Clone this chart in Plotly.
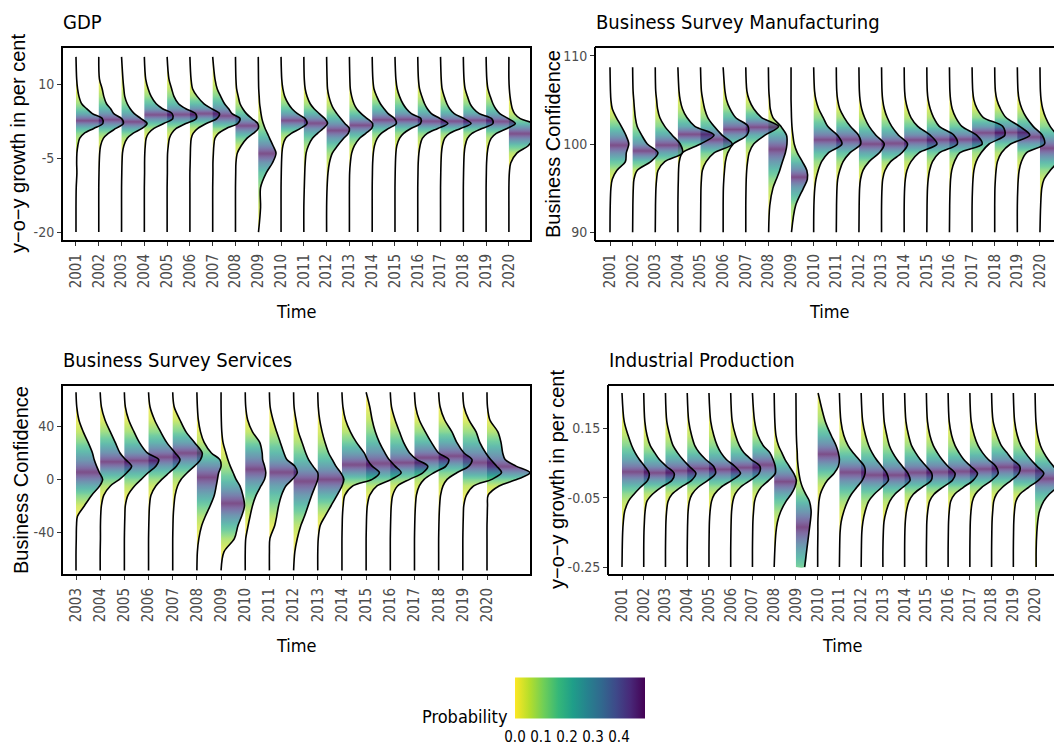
import numpy as np
import plotly.graph_objects as go
from plotly.colors import sample_colorscale

# ---------------------------------------------------------------- data
years_all = list(range(2001, 2021))
years_services = list(range(2003, 2021))

# density heights (in units of the spacing between years) at fixed value levels
gdp_levels = [-20, -15, -11, -8, -6, -4, -2.5, -1, 0, 1, 2, 3, 4, 5, 6, 7.5, 9, 11, 15.5]
gdp_heights = [
    [0, 0, 0.01, 0.04, 0.03, 0.04, 0.08, 0.16, 0.36, 0.78, 1.18, 1.15, 0.72, 0.47, 0.25, 0.13, 0.07, 0.03, 0],
    [0, 0, 0, 0.01, 0.02, 0.04, 0.08, 0.20, 0.42, 0.75, 1.08, 1.00, 0.66, 0.52, 0.34, 0.22, 0.15, 0.03, 0],
    [0, 0, 0, 0.01, 0.02, 0.04, 0.10, 0.25, 0.50, 0.90, 1.12, 0.85, 0.56, 0.38, 0.25, 0.14, 0.10, 0.06, 0],
    [0, 0, 0, 0.01, 0.01, 0.02, 0.04, 0.08, 0.18, 0.42, 0.85, 1.25, 1.22, 0.80, 0.52, 0.30, 0.17, 0.06, 0],
    [0, 0, 0, 0.01, 0.01, 0.02, 0.05, 0.10, 0.20, 0.40, 0.82, 1.28, 1.25, 0.82, 0.50, 0.30, 0.20, 0.08, 0],
    [0, 0, 0, 0, 0.01, 0.02, 0.03, 0.06, 0.14, 0.35, 0.72, 1.18, 1.30, 0.95, 0.62, 0.32, 0.12, 0.05, 0],
    [0, 0, 0, 0.01, 0.01, 0.03, 0.05, 0.10, 0.25, 0.60, 1.10, 1.20, 0.85, 0.70, 0.52, 0.35, 0.20, 0.10, 0],
    [0, 0, 0, 0.01, 0.02, 0.08, 0.25, 0.50, 0.78, 1.00, 0.98, 0.72, 0.48, 0.32, 0.20, 0.12, 0.05, 0.02, 0],
    [0.01, 0.10, 0.10, 0.35, 0.62, 0.78, 0.65, 0.50, 0.40, 0.30, 0.22, 0.16, 0.12, 0.09, 0.06, 0.04, 0.02, 0.01, 0],
    [0, 0, 0, 0.01, 0.02, 0.04, 0.08, 0.20, 0.45, 0.85, 1.14, 1.05, 0.72, 0.48, 0.32, 0.16, 0.08, 0.03, 0],
    [0, 0, 0.02, 0.04, 0.06, 0.10, 0.20, 0.38, 0.60, 0.85, 1.04, 0.92, 0.68, 0.45, 0.28, 0.14, 0.06, 0.02, 0],
    [0, 0, 0.02, 0.06, 0.12, 0.25, 0.48, 0.75, 0.95, 1.00, 0.80, 0.62, 0.45, 0.30, 0.20, 0.10, 0.04, 0.02, 0],
    [0, 0, 0, 0.01, 0.04, 0.10, 0.22, 0.45, 0.72, 0.98, 1.02, 0.78, 0.52, 0.32, 0.20, 0.10, 0.04, 0.02, 0],
    [0, 0, 0, 0.01, 0.02, 0.05, 0.10, 0.22, 0.40, 0.72, 1.06, 0.98, 0.70, 0.52, 0.36, 0.20, 0.08, 0.03, 0],
    [0, 0, 0, 0.01, 0.02, 0.04, 0.08, 0.20, 0.38, 0.70, 1.12, 1.14, 0.72, 0.50, 0.35, 0.20, 0.10, 0.04, 0],
    [0, 0, 0, 0.01, 0.02, 0.05, 0.10, 0.20, 0.42, 0.88, 1.32, 0.98, 0.60, 0.42, 0.30, 0.18, 0.08, 0.03, 0],
    [0, 0, 0, 0.01, 0.02, 0.04, 0.08, 0.18, 0.40, 0.88, 1.34, 1.04, 0.60, 0.40, 0.28, 0.16, 0.07, 0.03, 0],
    [0, 0, 0, 0.01, 0.02, 0.04, 0.08, 0.18, 0.38, 0.82, 1.30, 1.24, 0.70, 0.45, 0.30, 0.18, 0.08, 0.03, 0],
    [0, 0, 0, 0.01, 0.02, 0.05, 0.10, 0.22, 0.45, 0.92, 1.28, 0.98, 0.60, 0.42, 0.30, 0.18, 0.08, 0.03, 0],
    [0, 0, 0, 0.02, 0.08, 0.35, 0.85, 1.05, 1.05, 1.12, 1.05, 0.50, 0.25, 0.15, 0.10, 0.05, 0.02, 0, 0],
]
gdp_mass_below = [0, 0, 0, 0, 0, 0, 0, 0, 0.01, 0, 0, 0, 0, 0, 0, 0, 0, 0, 0, 0]

bsm_levels = [90, 93, 95, 96, 97, 98, 99, 100, 101, 102, 103, 104, 105, 106, 108.7]
bsm_heights = [
    [0, 0.01, 0.04, 0.10, 0.30, 0.68, 0.72, 0.83, 0.70, 0.50, 0.28, 0.10, 0.04, 0.02, 0],
    [0, 0.01, 0.03, 0.06, 0.20, 0.80, 1.12, 0.65, 0.40, 0.20, 0.12, 0.08, 0.05, 0.02, 0],
    [0, 0.01, 0.03, 0.06, 0.12, 0.42, 1.20, 1.10, 0.75, 0.42, 0.20, 0.10, 0.06, 0.02, 0],
    [0, 0, 0.01, 0.02, 0.03, 0.06, 0.20, 1.00, 1.60, 0.75, 0.40, 0.20, 0.10, 0.05, 0],
    [0, 0.01, 0.02, 0.04, 0.08, 0.25, 0.60, 1.40, 0.95, 0.60, 0.32, 0.18, 0.10, 0.04, 0],
    [0, 0, 0.01, 0.03, 0.06, 0.10, 0.20, 0.45, 1.05, 1.10, 0.55, 0.30, 0.15, 0.08, 0],
    [0, 0, 0.01, 0.02, 0.04, 0.08, 0.15, 0.35, 0.85, 1.45, 0.70, 0.35, 0.15, 0.05, 0],
    [0.01, 0.06, 0.20, 0.35, 0.50, 0.62, 0.75, 0.82, 0.80, 0.55, 0.20, 0.08, 0.05, 0.02, 0],
    [0.02, 0.20, 0.55, 0.72, 0.70, 0.50, 0.28, 0.14, 0.08, 0.04, 0.02, 0.01, 0, 0, 0],
    [0, 0.01, 0.05, 0.10, 0.20, 0.35, 0.65, 1.25, 1.05, 0.62, 0.42, 0.22, 0.10, 0.04, 0],
    [0, 0.01, 0.03, 0.06, 0.15, 0.30, 0.60, 1.08, 0.98, 0.62, 0.35, 0.15, 0.06, 0.02, 0],
    [0, 0.01, 0.03, 0.07, 0.18, 0.45, 0.90, 1.12, 0.75, 0.45, 0.25, 0.12, 0.05, 0.02, 0],
    [0, 0, 0.02, 0.05, 0.15, 0.40, 0.90, 1.15, 0.75, 0.45, 0.25, 0.12, 0.05, 0.02, 0],
    [0, 0, 0.02, 0.05, 0.12, 0.30, 0.65, 1.45, 1.15, 0.60, 0.30, 0.15, 0.06, 0.02, 0],
    [0, 0.01, 0.03, 0.06, 0.12, 0.25, 0.55, 1.35, 1.20, 0.55, 0.30, 0.15, 0.06, 0.02, 0],
    [0, 0.01, 0.03, 0.05, 0.10, 0.22, 0.45, 1.45, 1.20, 0.55, 0.28, 0.12, 0.05, 0.02, 0],
    [0, 0, 0.02, 0.04, 0.08, 0.18, 0.40, 0.75, 1.45, 1.35, 0.50, 0.22, 0.08, 0.03, 0],
    [0, 0, 0.01, 0.03, 0.06, 0.12, 0.30, 0.70, 1.55, 1.10, 0.50, 0.25, 0.10, 0.03, 0],
    [0, 0, 0.02, 0.04, 0.08, 0.18, 0.40, 1.20, 1.10, 0.70, 0.40, 0.20, 0.08, 0.03, 0],
    [0, 0.03, 0.08, 0.18, 0.45, 0.80, 1.00, 1.00, 0.75, 0.45, 0.25, 0.12, 0.05, 0.02, 0],
]
bsm_mass_below = [0, 0, 0, 0, 0, 0, 0, 0, 0.02, 0, 0, 0, 0, 0, 0, 0, 0, 0, 0, 0]

bss_levels = [-69, -55, -45, -35, -28, -20, -12, -5, 0, 5, 10, 15, 20, 28, 36, 45, 55, 66]
bss_heights = [
    [0, 0, 0.01, 0.02, 0.06, 0.35, 0.65, 0.98, 1.10, 0.97, 0.85, 0.75, 0.68, 0.50, 0.30, 0.12, 0.03, 0],
    [0, 0, 0.01, 0.01, 0.02, 0.05, 0.15, 0.42, 0.80, 1.10, 1.30, 1.05, 0.82, 0.62, 0.42, 0.20, 0.05, 0],
    [0, 0, 0, 0.01, 0.02, 0.04, 0.15, 0.42, 0.70, 0.98, 1.30, 1.42, 0.95, 0.62, 0.40, 0.18, 0.04, 0],
    [0, 0, 0, 0.01, 0.02, 0.04, 0.10, 0.30, 0.55, 0.85, 1.15, 1.30, 1.10, 0.75, 0.50, 0.25, 0.06, 0],
    [0, 0, 0, 0.01, 0.02, 0.05, 0.10, 0.20, 0.35, 0.60, 0.90, 1.15, 1.22, 0.90, 0.55, 0.30, 0.06, 0],
    [0, 0.02, 0.08, 0.20, 0.35, 0.55, 0.72, 0.80, 0.85, 0.90, 1.00, 0.95, 0.60, 0.30, 0.15, 0.06, 0.02, 0],
    [0, 0.12, 0.55, 0.70, 0.85, 0.97, 0.90, 0.78, 0.62, 0.50, 0.38, 0.28, 0.20, 0.08, 0.03, 0.01, 0, 0],
    [0, 0, 0.02, 0.12, 0.20, 0.30, 0.45, 0.65, 0.80, 0.85, 0.80, 0.72, 0.70, 0.60, 0.30, 0.10, 0.02, 0],
    [0, 0, 0.02, 0.22, 0.30, 0.38, 0.50, 0.68, 0.95, 1.15, 1.05, 0.72, 0.60, 0.45, 0.30, 0.15, 0.03, 0],
    [0, 0.05, 0.15, 0.30, 0.45, 0.60, 0.75, 0.90, 1.00, 1.00, 0.80, 0.62, 0.50, 0.35, 0.20, 0.10, 0.02, 0],
    [0, 0, 0.02, 0.10, 0.30, 0.55, 0.80, 1.00, 1.08, 0.95, 0.75, 0.60, 0.45, 0.30, 0.18, 0.08, 0.02, 0],
    [0, 0, 0, 0.01, 0.02, 0.05, 0.12, 0.45, 1.25, 1.55, 1.25, 1.05, 0.92, 0.60, 0.35, 0.15, 0.04, 0],
    [0, 0, 0, 0.01, 0.02, 0.05, 0.15, 0.45, 1.05, 1.45, 1.20, 0.95, 0.78, 0.55, 0.38, 0.25, 0.15, 0],
    [0, 0, 0, 0.01, 0.02, 0.04, 0.10, 0.30, 0.80, 1.35, 1.55, 1.10, 0.80, 0.55, 0.38, 0.20, 0.05, 0],
    [0, 0, 0, 0.01, 0.02, 0.04, 0.08, 0.20, 0.40, 0.80, 1.30, 1.42, 1.00, 0.70, 0.45, 0.20, 0.05, 0],
    [0, 0, 0, 0.01, 0.02, 0.04, 0.08, 0.18, 0.35, 0.75, 1.25, 1.38, 1.05, 0.75, 0.55, 0.25, 0.06, 0],
    [0, 0, 0, 0.01, 0.02, 0.04, 0.15, 0.45, 1.20, 1.60, 1.40, 1.15, 0.95, 0.70, 0.55, 0.25, 0.05, 0],
    [0, 0, 0, 0, 0.01, 0.02, 0.05, 0.50, 1.25, 1.78, 1.20, 0.75, 0.65, 0.58, 0.45, 0.12, 0.02, 0],
]
bss_mass_below = [0, 0, 0, 0, 0, 0, 0, 0, 0, 0, 0, 0, 0, 0, 0, 0, 0, 0]

ip_levels = [-0.25, -0.2, -0.15, -0.12, -0.09, -0.06, -0.04, -0.02, 0, 0.02, 0.04, 0.06, 0.08, 0.1, 0.13, 0.17, 0.252]
ip_heights = [
    [0, 0.01, 0.03, 0.06, 0.12, 0.30, 0.55, 0.85, 1.18, 1.25, 1.05, 0.80, 0.60, 0.45, 0.28, 0.10, 0],
    [0, 0, 0.01, 0.03, 0.06, 0.15, 0.40, 0.80, 1.30, 1.40, 1.05, 0.72, 0.50, 0.30, 0.15, 0.05, 0],
    [0, 0, 0.01, 0.02, 0.05, 0.12, 0.30, 0.70, 1.20, 1.40, 1.10, 0.80, 0.55, 0.35, 0.20, 0.06, 0],
    [0, 0, 0.01, 0.02, 0.04, 0.10, 0.22, 0.50, 0.95, 1.30, 1.22, 0.85, 0.55, 0.35, 0.20, 0.07, 0],
    [0, 0, 0.01, 0.02, 0.05, 0.12, 0.25, 0.55, 1.05, 1.45, 1.20, 0.80, 0.55, 0.38, 0.22, 0.08, 0],
    [0, 0, 0.01, 0.02, 0.04, 0.10, 0.20, 0.45, 0.90, 1.30, 1.35, 0.95, 0.60, 0.40, 0.22, 0.07, 0],
    [0, 0, 0.01, 0.02, 0.05, 0.10, 0.20, 0.40, 0.75, 1.05, 1.05, 0.95, 0.80, 0.50, 0.25, 0.10, 0],
    [0, 0.03, 0.08, 0.15, 0.30, 0.55, 0.78, 0.95, 1.02, 0.90, 0.70, 0.50, 0.35, 0.20, 0.08, 0.03, 0],
    [0.40, 0.50, 0.60, 0.66, 0.70, 0.62, 0.45, 0.30, 0.20, 0.14, 0.10, 0.07, 0.06, 0.04, 0.02, 0.01, 0],
    [0, 0, 0.01, 0.01, 0.03, 0.06, 0.12, 0.25, 0.45, 0.75, 0.95, 1.00, 0.95, 0.85, 0.62, 0.35, 0.02],
    [0, 0.01, 0.03, 0.08, 0.20, 0.38, 0.55, 0.80, 1.05, 1.18, 1.15, 0.90, 0.62, 0.40, 0.20, 0.07, 0],
    [0, 0.01, 0.03, 0.08, 0.18, 0.35, 0.60, 0.95, 1.25, 1.18, 0.95, 0.70, 0.50, 0.35, 0.20, 0.07, 0],
    [0, 0, 0.02, 0.05, 0.15, 0.32, 0.55, 0.92, 1.25, 1.15, 0.90, 0.65, 0.45, 0.30, 0.18, 0.06, 0],
    [0, 0, 0.01, 0.03, 0.08, 0.20, 0.40, 0.80, 1.22, 1.25, 1.00, 0.72, 0.50, 0.32, 0.18, 0.06, 0],
    [0, 0, 0.01, 0.02, 0.06, 0.15, 0.35, 0.75, 1.20, 1.32, 1.00, 0.72, 0.50, 0.32, 0.16, 0.05, 0],
    [0, 0, 0.01, 0.02, 0.05, 0.12, 0.30, 0.70, 1.15, 1.35, 1.05, 0.72, 0.50, 0.32, 0.16, 0.05, 0],
    [0, 0, 0.01, 0.02, 0.05, 0.12, 0.25, 0.55, 1.00, 1.30, 1.20, 0.85, 0.58, 0.38, 0.20, 0.06, 0],
    [0, 0, 0.01, 0.02, 0.05, 0.10, 0.22, 0.50, 0.90, 1.25, 1.30, 0.95, 0.70, 0.45, 0.25, 0.07, 0],
    [0, 0, 0.01, 0.02, 0.05, 0.12, 0.30, 0.70, 1.15, 1.40, 1.10, 0.80, 0.55, 0.35, 0.18, 0.06, 0],
    [0.05, 0.05, 0.08, 0.12, 0.20, 0.40, 0.65, 1.00, 1.20, 1.10, 0.85, 0.60, 0.40, 0.25, 0.12, 0.04, 0],
]
ip_mass_below = [0, 0, 0, 0, 0, 0, 0, 0, 0.15, 0, 0, 0, 0, 0, 0, 0, 0, 0, 0, 0.01]

# ---------------------------------------------------------------- styling
W, H = 1054, 748
NARROW = "DejaVu Sans Condensed, Liberation Sans Narrow, Arial Narrow, sans-serif"
AXIS_TITLE = "Liberation Sans, Arial, sans-serif"
TICK_GREY = "#4d4d4d"
FILL_ALPHA = 0.7
PROB_MAX = 0.5


def px(x):
    return x / W


def py(y):
    return 1 - y / H


def to_rgba(col, alpha):
    r, g, b = [int(float(v)) for v in col[col.index("(") + 1:col.index(")")].split(",")]
    return f"rgba({r},{g},{b},{alpha})"


def ridges(levels, heights, mass_below, xa, ya):
    """Filled density ridges, one per year, coloured by tail probability."""
    lv = np.asarray(levels, float)
    out = []
    for i in reversed(range(len(heights))):
        h = np.asarray(heights[i], float)
        base = i + 1
        seg = 0.5 * (h[1:] + h[:-1]) * np.diff(lv)
        cum = np.concatenate([[0.0], np.cumsum(seg)]) / seg.sum()
        cdf = mass_below[i] + (1 - mass_below[i]) * cum
        pos = np.linspace(lv[0], lv[-1], 160)
        tail = 0.5 - np.abs(0.5 - np.interp(pos, lv, cdf))
        cols = sample_colorscale("Viridis", list(np.clip(1 - tail / PROB_MAX, 0, 1)))
        frac = (pos - lv[0]) / (lv[-1] - lv[0])
        cscale = [[float(f), to_rgba(c, FILL_ALPHA)] for f, c in zip(frac, cols)]

        fx = list(base + h)
        fy = list(lv)
        if h[0] > 0:
            fx = [base] + fx
            fy = [lv[0]] + fy
        if h[-1] > 0:
            fx = fx + [base]
            fy = fy + [lv[-1]]
        out.append(go.Scatter(
            x=fx, y=fy, xaxis=xa, yaxis=ya, mode="lines",
            line=dict(width=0, shape="spline", smoothing=0.9),
            fill="toself",
            fillgradient=dict(type="vertical", colorscale=cscale,
                              start=float(lv[0]), stop=float(lv[-1])),
            hoverinfo="skip", showlegend=False,
        ))
        out.append(go.Scatter(
            x=list(base + h), y=list(lv), xaxis=xa, yaxis=ya, mode="lines",
            line=dict(color="black", width=1.6, shape="spline", smoothing=0.9),
            hoverinfo="skip", showlegend=False,
        ))
    return out


# panel geometry in pixels (left, right, top, bottom) and axis settings;
# the x range is the visible range inside the page
panels = [
    dict(name="GDP", years=years_all, levels=gdp_levels, heights=gdp_heights,
         below=gdp_mass_below, box=(62, 531, 47, 241), xr=[0.386, 20.97], yr=[-21.8, 17.5],
         yt=[-20, -5, 10], ytt=["-20", "-5", "10"],
         ytitle="y\u2212o\u2212y growth in per cent", ytx=18, closed=True),
    dict(name="Business Survey Manufacturing", years=years_all, levels=bsm_levels,
         heights=bsm_heights, below=bsm_mass_below, box=(595, 1054, 47, 241),
         xr=[0.337, 20.62], yr=[89.0, 111.0],
         yt=[90, 100, 110], ytt=["90", "100", "110"],
         ytitle="Business Confidence", ytx=553, closed=False),
    dict(name="Business Survey Services", years=years_services, levels=bss_levels,
         heights=bss_heights, below=bss_mass_below, box=(62, 531, 385, 575),
         xr=[0.42, 19.82], yr=[-72.5, 71.5],
         yt=[-40, 0, 40], ytt=["-40", "0", "40"],
         ytitle="Business Confidence", ytx=21, closed=True),
    dict(name="Industrial Production", years=years_all, levels=ip_levels,
         heights=ip_heights, below=ip_mass_below, box=(608, 1054, 385, 575),
         xr=[0.356, 20.87], yr=[-0.273, 0.275],
         yt=[-0.25, -0.05, 0.15], ytt=["-0.25", "-0.05", "0.15"],
         ytitle="y\u2212o\u2212y growth in per cent", ytx=557, closed=False),
]

fig = go.Figure()
layout = dict(
    width=W, height=H, margin=dict(l=0, r=0, t=0, b=0, autoexpand=False),
    paper_bgcolor="white", plot_bgcolor="white", showlegend=False,
)
shapes = []
annotations = []

for k, p in enumerate(panels, start=1):
    l, r, t, b = p["box"]
    xa, ya = f"x{k}", f"y{k}"
    xkey, ykey = ("xaxis" if k == 1 else f"xaxis{k}"), ("yaxis" if k == 1 else f"yaxis{k}")
    layout[xkey] = dict(
        domain=[px(l), px(r)], range=p["xr"], anchor=ya,
        tickmode="array", tickvals=list(range(1, len(p["years"]) + 1)),
        ticktext=[str(v) for v in p["years"]], tickangle=-90,
        ticks="outside", ticklen=4, tickwidth=1.2, tickcolor="#333333",
        ticklabelstandoff=2,
        tickfont=dict(family=NARROW, size=15, color=TICK_GREY),
        showgrid=False, zeroline=False, showline=False,
    )
    layout[ykey] = dict(
        domain=[py(b), py(t)], range=p["yr"], anchor=xa,
        tickmode="array", tickvals=p["yt"], ticktext=p["ytt"],
        ticks="outside", ticklen=4, tickwidth=1.2, tickcolor="#333333",
        tickfont=dict(family=NARROW, size=14, color=TICK_GREY),
        showgrid=False, zeroline=False, showline=False,
    )
    for tr in ridges(p["levels"], p["heights"], p["below"], xa, ya):
        fig.add_trace(tr)

    # panel border (the right-hand panels run past the page edge)
    lw = 2
    if p["closed"]:
        shapes.append(dict(type="rect", xref="paper", yref="paper",
                           x0=px(l), x1=px(r), y0=py(b), y1=py(t),
                           line=dict(color="black", width=lw)))
    else:
        for x0, y0, x1, y1 in [(l, t, W + 5, t), (l, b, W + 5, b), (l, t, l, b)]:
            shapes.append(dict(type="line", xref="paper", yref="paper",
                               x0=px(x0), x1=px(x1), y0=py(y0), y1=py(y1),
                               line=dict(color="black", width=lw)))

    centre = (l + r) / 2 if p["closed"] else (l + l + 469) / 2
    annotations.append(dict(text=p["name"], x=px(l - 1), y=py(t - 25), xref="paper", yref="paper",
                            xanchor="left", yanchor="middle", showarrow=False,
                            font=dict(family=NARROW, size=20, color="black")))
    annotations.append(dict(text="Time", x=px(centre), y=py(b + 70), xref="paper",
                            yref="paper", xanchor="center", yanchor="middle", showarrow=False,
                            font=dict(family=NARROW, size=18, color="black")))
    annotations.append(dict(text=p["ytitle"], x=px(p["ytx"]), y=py((t + b) / 2), xref="paper",
                            yref="paper", xanchor="center", yanchor="middle", showarrow=False,
                            textangle=-90, font=dict(family=AXIS_TITLE, size=20, color="black")))

# colour bar for the tail probability
fig.add_trace(go.Scatter(
    x=[None], y=[None], mode="markers", xaxis="x1", yaxis="y1",
    marker=dict(color=[0], colorscale="Viridis_r", cmin=0, cmax=PROB_MAX, showscale=True,
                colorbar=dict(orientation="h", x=px(580), y=py(712), xanchor="center",
                              yanchor="middle", len=150, lenmode="pixels", thickness=41,
                              outlinewidth=0, ticks="outside", ticklen=6,
                              tickcolor="rgba(0,0,0,0)", tickangle=0,
                              tickvals=[0, 0.1, 0.2, 0.3, 0.4],
                              ticktext=["0.0", "0.1", "0.2", "0.3", "0.4"],
                              tickfont=dict(family=NARROW, size=15, color="black"))),
    hoverinfo="skip", showlegend=False,
))
annotations.append(dict(text="Probability", x=px(510), y=py(716), xref="paper", yref="paper",
                        xanchor="right", yanchor="middle", showarrow=False,
                        font=dict(family=NARROW, size=18, color="black")))

layout["shapes"] = shapes
layout["annotations"] = annotations
fig.update_layout(**layout)
fig.write_html("out.html")
